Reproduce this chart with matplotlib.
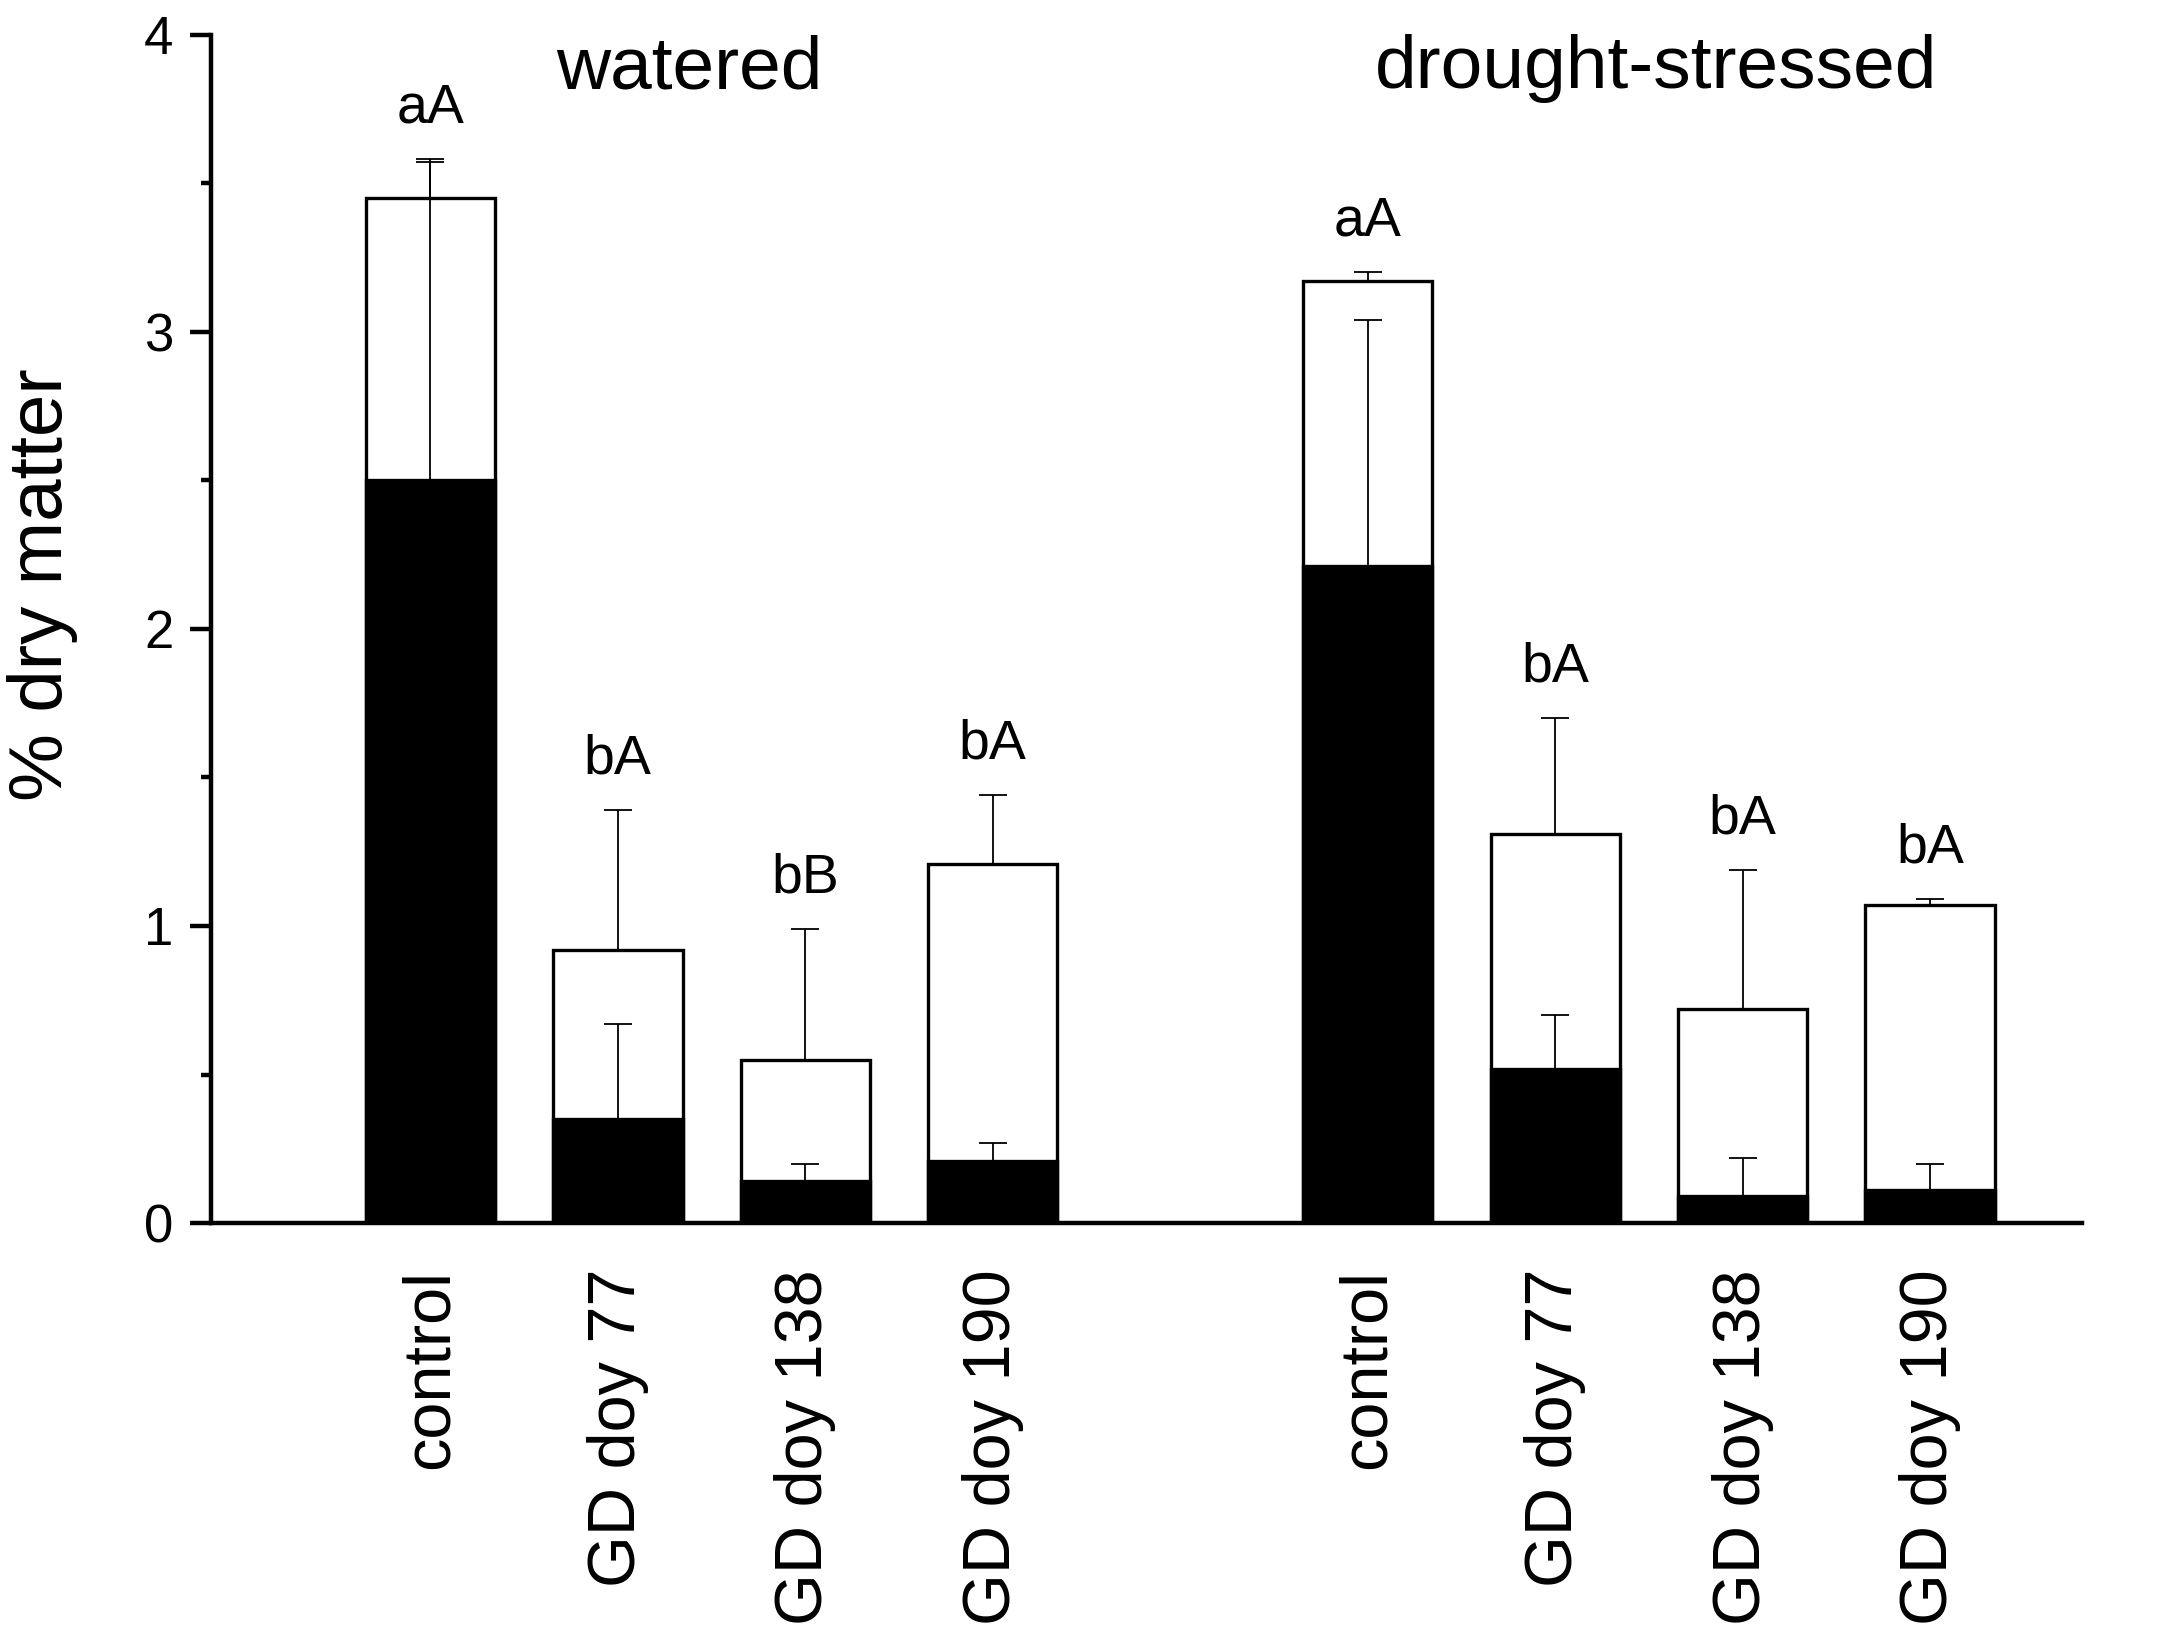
import numpy as np
import matplotlib
matplotlib.use("Agg")
import matplotlib.pyplot as plt
from matplotlib.ticker import MultipleLocator

plt.rcParams['font.family'] = ['Liberation Sans', 'DejaVu Sans']

# data
categories = ["control", "GD doy 77", "GD doy 138", "GD doy 190"]
groups = ["watered", "drought-stressed"]

watered_total = [3.45, 0.92, 0.55, 1.21]
watered_total_err = [0.13, 0.47, 0.44, 0.23]
watered_black = [2.50, 0.35, 0.14, 0.21]
watered_black_err = [1.07, 0.32, 0.06, 0.06]
watered_letters = ["aA", "bA", "bB", "bA"]

drought_total = [3.17, 1.31, 0.72, 1.07]
drought_total_err = [0.03, 0.39, 0.47, 0.02]
drought_black = [2.21, 0.52, 0.09, 0.11]
drought_black_err = [0.83, 0.18, 0.13, 0.09]
drought_letters = ["aA", "bA", "bA", "bA"]

# positions: two groups of four with a gap
x = np.array([0, 1, 2, 3, 5, 6, 7, 8])
total = np.array(watered_total + drought_total)
total_err = np.array(watered_total_err + drought_total_err)
black = np.array(watered_black + drought_black)
black_err = np.array(watered_black_err + drought_black_err)
letters = watered_letters + drought_letters
labels = categories + categories

fig = plt.figure(figsize=(21.62, 16.51), dpi=100)
ax = fig.add_axes([0.0976, 0.2592, 0.8654, 0.7198])

w = 0.69
ax.bar(x, total, width=w, color="white", edgecolor="black", linewidth=2.4, zorder=2)
ax.bar(x, black, width=w, color="black", edgecolor="black", linewidth=2.4, zorder=3)

zeros = np.zeros_like(total)
ax.errorbar(x, total, yerr=[zeros, total_err], fmt="none", ecolor="black",
            elinewidth=1.3, capsize=10, capthick=1.3, zorder=4)
ax.errorbar(x, black, yerr=[zeros, black_err], fmt="none", ecolor="black",
            elinewidth=1.3, capsize=10, capthick=1.3, zorder=4)

# significance letters above the highest error bar
tops = np.maximum(total + total_err, black + black_err)
for xi, t, s in zip(x, tops, letters):
    ax.text(xi, t + 0.17, s, ha="center", va="center", fontsize=40)

# group headings
ax.text(1.38, 3.82, groups[0], ha="center", va="baseline", fontsize=54)
ax.text(6.54, 3.82, groups[1], ha="center", va="baseline", fontsize=54)

ax.set_xlim(-1.17, 8.81)
ax.set_ylim(0, 4)
ax.set_xticks(x)
ax.set_xticklabels(labels, rotation=90, fontsize=48, va="top", ha="center")
ax.tick_params(axis="x", length=0, pad=33)

ax.yaxis.set_major_locator(MultipleLocator(1))
ax.yaxis.set_minor_locator(MultipleLocator(0.5))
ax.tick_params(axis="y", which="major", direction="out", length=15, width=3.2,
               labelsize=38, pad=12)
ax.tick_params(axis="y", which="minor", direction="out", length=7.5, width=3.2)

for side in ["top", "right"]:
    ax.spines[side].set_visible(False)
for side in ["left", "bottom"]:
    ax.spines[side].set_linewidth(3.2)

fig.text(0.0195, 0.646, "% dry matter", rotation=90, ha="center", va="center",
         fontsize=55)

fig.savefig("out.png", dpi=100)
